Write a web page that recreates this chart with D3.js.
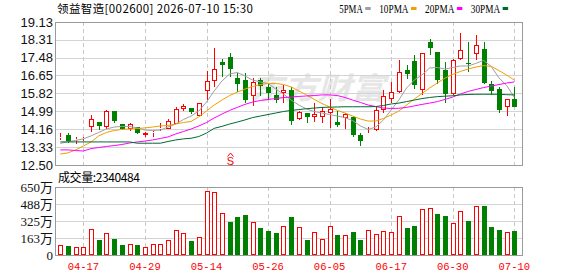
<!DOCTYPE html>
<html>
<head>
  <meta charset="utf-8">
  <title>领益智造 K线</title>
  <style>
    body {
      margin: 0;
      background: #fff;
    }
    svg {
      display: block;
      font-family: "Noto Sans CJK SC", "Liberation Sans", sans-serif;
    }
  </style>
</head>
<body>
  <svg id="chart"></svg>

  <script src="https://d3js.org/d3.v7.min.js"></script>
  <script>
    // trading days shown (2026)
    const dates = [
      "04-14","04-15","04-16","04-17","04-20","04-21","04-22","04-23","04-24","04-27",
      "04-28","04-29","04-30","05-06","05-07","05-08","05-11","05-12","05-13","05-14",
      "05-15","05-18","05-19","05-20","05-21","05-22","05-25","05-26","05-27","05-28",
      "05-29","06-01","06-02","06-03","06-04","06-05","06-08","06-09","06-10","06-11",
      "06-12","06-15","06-16","06-17","06-18","06-22","06-23","06-24","06-25","06-26",
      "06-29","06-30","07-01","07-02","07-03","07-06","07-07","07-08","07-09","07-10"
    ];

    const opens = [
      13.80, 13.88, 13.70, 13.73, 14.28, 14.49, 14.25, 14.99, 14.40, 14.18,
      14.25, 13.88, 14.02, 14.16, 14.18, 14.40, 15.08, 15.14, 14.77, 15.93,
      16.39, 17.28, 17.49, 16.52, 16.44, 15.71, 16.44, 16.10, 15.75, 15.85,
      15.98, 14.62, 14.90, 14.74, 14.71, 14.90, 14.51, 14.66, 14.74, 13.89,
      13.94, 14.12, 15.05, 15.55, 15.87, 16.89, 17.31, 15.97, 18.19, 17.73,
      16.90, 15.81, 17.40, 17.23, 17.64, 17.89, 16.26, 16.03, 15.18, 15.55
    ];
    const highs = [
      13.97, 13.97, 13.78, 13.81, 14.82, 14.50, 15.05, 15.02, 14.42, 14.43,
      14.28, 14.03, 14.12, 14.43, 14.62, 15.20, 15.33, 15.16, 15.38, 16.86,
      17.91, 17.41, 17.71, 16.78, 16.78, 16.52, 16.52, 16.30, 16.10, 16.21,
      16.13, 15.00, 14.92, 15.39, 15.20, 15.55, 15.00, 14.93, 14.76, 13.97,
      14.28, 15.20, 15.98, 16.36, 17.37, 17.15, 17.59, 17.70, 18.34, 17.75,
      17.28, 17.40, 18.61, 18.20, 18.54, 18.20, 16.40, 16.10, 15.58, 16.13
    ];
    const lows = [
      13.66, 13.51, 13.47, 13.63, 14.03, 14.12, 14.18, 14.46, 14.12, 14.09,
      13.94, 13.78, 13.81, 14.09, 14.16, 14.38, 15.02, 14.86, 14.77, 15.51,
      16.13, 16.59, 16.59, 15.90, 15.39, 15.24, 15.70, 15.51, 15.36, 15.39,
      14.35, 14.58, 14.43, 14.51, 14.46, 14.20, 14.24, 14.16, 13.78, 13.38,
      13.93, 14.06, 14.90, 15.39, 15.85, 16.47, 16.04, 15.73, 17.59, 16.27,
      15.39, 15.73, 17.38, 16.81, 17.35, 16.26, 15.73, 14.90, 14.77, 15.21
    ];
    const closes = [
      13.82, 13.63, 13.72, 13.75, 14.62, 14.31, 14.99, 14.55, 14.16, 14.40,
      13.97, 13.98, 14.04, 14.20, 14.55, 15.08, 15.24, 14.96, 15.36, 16.39,
      16.94, 17.12, 16.97, 16.26, 15.51, 16.33, 16.16, 15.85, 15.51, 15.98,
      14.55, 14.96, 14.71, 14.86, 15.00, 15.08, 14.35, 14.86, 13.89, 13.63,
      13.97, 15.05, 15.70, 15.87, 16.83, 16.74, 16.20, 17.67, 17.94, 16.43,
      15.81, 17.36, 17.81, 17.19, 18.05, 16.29, 15.95, 15.06, 15.58, 15.21
    ];
    // volume in 万
    const volumes = [
      96, 86, 73, 73, 248, 143, 207, 153, 96, 102,
      96, 77, 102, 102, 140, 239, 207, 134, 172, 612,
      599, 398, 318, 363, 382, 312, 261, 229, 210, 274,
      363, 268, 143, 217, 153, 274, 191, 191, 220, 143,
      236, 201, 229, 217, 373, 261, 277, 440, 449, 392,
      373, 303, 421, 325, 468, 468, 268, 239, 217, 234.0484
    ];

    // moving averages
    const ma5 = [
      13.50, 13.58, 13.64, 13.71, 13.85, 14.01, 14.17, 14.26, 14.29, 14.29,
      14.22, 14.12, 14.10, 14.12, 14.26, 14.40, 14.61, 14.77, 15.00, 15.42,
      15.93, 16.39, 16.72, 16.79, 16.63, 16.44, 16.35, 16.28, 16.02, 15.79,
      15.51, 15.28, 15.10, 14.98, 14.91, 14.84, 14.77, 14.70, 14.56, 14.31,
      14.15, 14.26, 14.59, 15.05, 15.52, 16.07, 16.44, 16.67, 17.00, 17.02,
      16.95, 17.02, 17.09, 17.09, 17.21, 17.35, 17.07, 16.54, 16.19, 15.64
    ];
    const ma10 = [
      13.01, 13.06, 13.20, 13.38, 13.57, 13.85, 14.01, 14.10, 14.15, 14.17,
      14.19, 14.22, 14.26, 14.31, 14.33, 14.40, 14.47, 14.52, 14.73, 15.00,
      15.28, 15.51, 15.72, 15.88, 16.02, 16.14, 16.23, 16.28, 16.28, 16.23,
      16.12, 15.93, 15.75, 15.54, 15.35, 15.19, 15.03, 14.91, 14.77, 14.63,
      14.54, 14.54, 14.66, 14.82, 15.00, 15.28, 15.56, 15.81, 16.07, 16.30,
      16.53, 16.70, 16.84, 16.95, 17.04, 17.11, 17.07, 16.88, 16.67, 16.44
    ];
    const ma20 = [
      13.20, 13.20, 13.17, 13.15, 13.26, 13.31, 13.36, 13.40, 13.45, 13.52,
      13.57, 13.61, 13.66, 13.73, 13.80, 13.94, 14.05, 14.17, 14.31, 14.47,
      14.68, 14.86, 15.03, 15.17, 15.31, 15.42, 15.49, 15.54, 15.58, 15.63,
      15.65, 15.68, 15.70, 15.72, 15.75, 15.75, 15.72, 15.63, 15.51, 15.40,
      15.28, 15.21, 15.14, 15.12, 15.13, 15.17, 15.24, 15.31, 15.37, 15.44,
      15.54, 15.65, 15.79, 15.91, 16.00, 16.09, 16.16, 16.23, 16.30, 16.35
    ];
    const ma30 = [
      13.57, 13.57, 13.57, 13.57, 13.57, 13.57, 13.57, 13.57, 13.57, 13.57,
      13.51, 13.51, 13.51, 13.51, 13.59, 13.66, 13.71, 13.74, 13.82, 13.98,
      14.20, 14.29, 14.40, 14.49, 14.59, 14.70, 14.77, 14.84, 14.91, 14.98,
      15.03, 15.07, 15.11, 15.14, 15.17, 15.18, 15.19, 15.20, 15.20, 15.20,
      15.20, 15.21, 15.26, 15.33, 15.37, 15.44, 15.51, 15.58, 15.63, 15.67,
      15.69, 15.71, 15.75, 15.77, 15.78, 15.78, 15.78, 15.78, 15.76, 15.75
    ];

    const priceTicks = [12.50, 13.33, 14.16, 14.99, 15.82, 16.65, 17.48, 18.31, 19.13];
    const volumeTicks = [0, 163, 325, 488, 650];
    const volumeTickLabels = ["0", "163万", "325万", "488万", "650万"];
    const tickDates = ["04-17", "04-29", "05-14", "05-26", "06-05", "06-17", "06-30", "07-10"];
    const maNames = ["5PMA", "10PMA", "20PMA", "30PMA"];
    const signals = [{ date: "05-19", label: "S" }];

    const title = "领益智造[002600] 2026-07-10 15:30";
    const lastVolume = "2340484";

    const chart = () => {
      const width = 578;
      const height = 276;
      const left = 55, right = 522;
      const priceTop = 22, priceBottom = 165;
      const volTop = 187, volBottom = 255;

      const RED = "#ff0000";
      const GREEN = "#008000";
      const maColors = ["#a0a0a0", "#f0a000", "#ff00ff", "#006a2e"];

      const svg = d3.select("#chart")
        .attr("width", width)
        .attr("height", height);

      const x = d3.scalePoint().domain(dates).range([60.3, 514.3]);
      const y = d3.scaleLinear().domain([12.50, 19.13]).range([priceBottom, priceTop]);
      const yv = d3.scaleLinear().domain([0, 650]).range([volBottom, volTop]);

      const px = (v) => Math.round(v) + 0.5;

      const candles = dates.map((d, i) => ({
        date: d,
        open: opens[i], high: highs[i], low: lows[i], close: closes[i],
        volume: volumes[i],
        prevClose: i ? closes[i - 1] : opens[i]
      }));

      // watermark
      svg.append("text")
        .attr("x", 250)
        .attr("y", 99)
        .attr("font-size", 30)
        .attr("font-weight", "bold")
        .attr("font-style", "italic")
        .attr("fill", "#e6e6e6")
        .attr("textLength", 135)
        .attr("lengthAdjust", "spacingAndGlyphs")
        .text("东方财富");

      // horizontal grid
      const grid = svg.append("g").attr("shape-rendering", "crispEdges");
      grid.selectAll("line.hp")
        .data(priceTicks)
        .join("line")
        .attr("x1", left).attr("x2", right)
        .attr("y1", (d) => px(y(d))).attr("y2", (d) => px(y(d)))
        .attr("stroke", "#d4d4d4");
      grid.selectAll("line.hv")
        .data(volumeTicks)
        .join("line")
        .attr("class", "hv")
        .attr("x1", left).attr("x2", right)
        .attr("y1", (d) => px(yv(d))).attr("y2", (d) => px(yv(d)))
        .attr("stroke", "#d4d4d4");

      // vertical dashed grid
      [[priceTop, priceBottom], [volTop, volBottom]].forEach(([a, b]) => {
        grid.append("g")
          .selectAll("line")
          .data(tickDates)
          .join("line")
          .attr("x1", (d) => px(x(d))).attr("x2", (d) => px(x(d)))
          .attr("y1", a).attr("y2", b)
          .attr("stroke", "#c8c8c8")
          .attr("stroke-dasharray", "4,3");
      });

      // frames
      [[priceTop, priceBottom], [volTop, volBottom]].forEach(([a, b]) => {
        grid.append("rect")
          .attr("x", left + 0.5).attr("y", a + 0.5)
          .attr("width", right - left).attr("height", b - a)
          .attr("fill", "none")
          .attr("stroke", "#9a9a9a");
      });

      // candles
      const cg = svg.append("g").attr("shape-rendering", "crispEdges");
      const c = cg.selectAll("g")
        .data(candles)
        .join("g");

      c.each(function (d) {
        const g = d3.select(this);
        const cx = px(x(d.date));
        const up = d.close >= d.open;
        const col = up ? RED : GREEN;
        const top = Math.round(y(Math.max(d.open, d.close)));
        const bot = Math.max(top + 1, Math.round(y(Math.min(d.open, d.close))));
        const hi = Math.round(y(d.high));
        const lo = Math.round(y(d.low));
        if (up) {
          if (hi < top) g.append("line").attr("x1", cx).attr("x2", cx).attr("y1", hi).attr("y2", top).attr("stroke", col);
          if (lo > bot) g.append("line").attr("x1", cx).attr("x2", cx).attr("y1", bot).attr("y2", lo).attr("stroke", col);
          g.append("rect")
            .attr("x", cx - 2).attr("y", top + 0.5)
            .attr("width", 4).attr("height", Math.max(0, bot - top - 1))
            .attr("fill", "#fff").attr("stroke", col);
        } else {
          g.append("line").attr("x1", cx).attr("x2", cx).attr("y1", hi).attr("y2", lo).attr("stroke", col);
          g.append("rect")
            .attr("x", cx - 2.5).attr("y", top)
            .attr("width", 5).attr("height", bot - top)
            .attr("fill", col);
        }
      });

      // volume bars
      const vg = svg.append("g").attr("shape-rendering", "crispEdges");
      vg.selectAll("rect")
        .data(candles)
        .join("rect")
        .each(function (d) {
          const up = d.close >= d.prevClose;
          const cx = px(x(d.date));
          const t = Math.round(yv(d.volume));
          const r = d3.select(this);
          if (up) {
            r.attr("x", cx - 2).attr("y", t + 0.5)
              .attr("width", 4).attr("height", volBottom - t - 1)
              .attr("fill", "#fff").attr("stroke", RED);
          } else {
            r.attr("x", cx - 2.5).attr("y", t)
              .attr("width", 5).attr("height", volBottom - t)
              .attr("fill", GREEN);
          }
        });

      // moving averages
      [ma5, ma10, ma20, ma30].forEach((arr, k) => {
        const line = d3.line()
          .x((d, i) => x(dates[i]))
          .y((d) => y(d));
        svg.append("path")
          .datum(arr)
          .attr("d", line)
          .attr("fill", "none")
          .attr("stroke", maColors[k])
          .attr("stroke-width", 1);
      });

      // signal markers
      const sg = svg.append("g")
        .selectAll("g")
        .data(signals)
        .join("g")
        .attr("transform", (d) => `translate(${px(x(d.date))},0)`);
      sg.append("path")
        .attr("d", "M-3,156.5 L0,153 L3,156.5")
        .attr("fill", "none")
        .attr("stroke", RED);
      sg.append("text")
        .attr("y", 165)
        .attr("text-anchor", "middle")
        .attr("font-family", "Liberation Sans")
        .attr("font-size", 11)
        .attr("fill", RED)
        .text((d) => d.label);

      // price axis labels
      svg.append("g")
        .selectAll("text")
        .data(priceTicks)
        .join("text")
        .attr("x", 53)
        .attr("y", (d) => y(d))
        .attr("dy", "0.36em")
        .attr("text-anchor", "end")
        .attr("font-family", "Liberation Sans")
        .attr("font-size", 13)
        .attr("fill", "#111")
        .text((d) => d.toFixed(2));

      // volume axis labels
      svg.append("g")
        .selectAll("text")
        .data(volumeTicks)
        .join("text")
        .attr("x", 53)
        .attr("y", (d) => yv(d))
        .attr("dy", "0.36em")
        .attr("text-anchor", "end")
        .attr("font-family", "Liberation Serif, Noto Sans CJK SC")
        .attr("font-size", 13)
        .attr("fill", "#111")
        .text((d, i) => volumeTickLabels[i]);

      // date labels
      svg.append("g")
        .selectAll("text")
        .data(tickDates)
        .join("text")
        .attr("x", (d) => x(d))
        .attr("y", 269.5)
        .attr("text-anchor", "middle")
        .attr("font-family", "Liberation Mono")
        .attr("font-size", 10.5)
        .attr("fill", RED)
        .text((d) => d);

      // title
      svg.append("text")
        .attr("x", 57)
        .attr("y", 12.8)
        .attr("font-size", 11.5)
        .attr("fill", "#000")
        .attr("textLength", 196)
        .attr("lengthAdjust", "spacing")
        .text(title);

      // volume caption
      svg.append("text")
        .attr("x", 58)
        .attr("y", 181.5)
        .attr("font-size", 12)
        .attr("fill", "#000")
        .attr("textLength", 82)
        .attr("lengthAdjust", "spacing")
        .text("成交量:" + lastVolume);

      // legend
      let lx = 339.3;
      maNames.forEach((name, k) => {
        const w = name.length * 5.86;
        svg.append("text")
          .attr("x", lx)
          .attr("y", 12.5)
          .attr("font-family", "Liberation Serif")
          .attr("font-size", 12)
          .attr("fill", "#000")
          .attr("textLength", w)
          .attr("lengthAdjust", "spacingAndGlyphs")
          .text(name);
        lx += w + 2.5;
        svg.append("rect")
          .attr("x", lx).attr("y", 7)
          .attr("width", 5.5).attr("height", 3)
          .attr("fill", maColors[k]);
        lx += 5.5 + 8.5;
      });
    };

    chart();
  </script>
</body>
</html>
